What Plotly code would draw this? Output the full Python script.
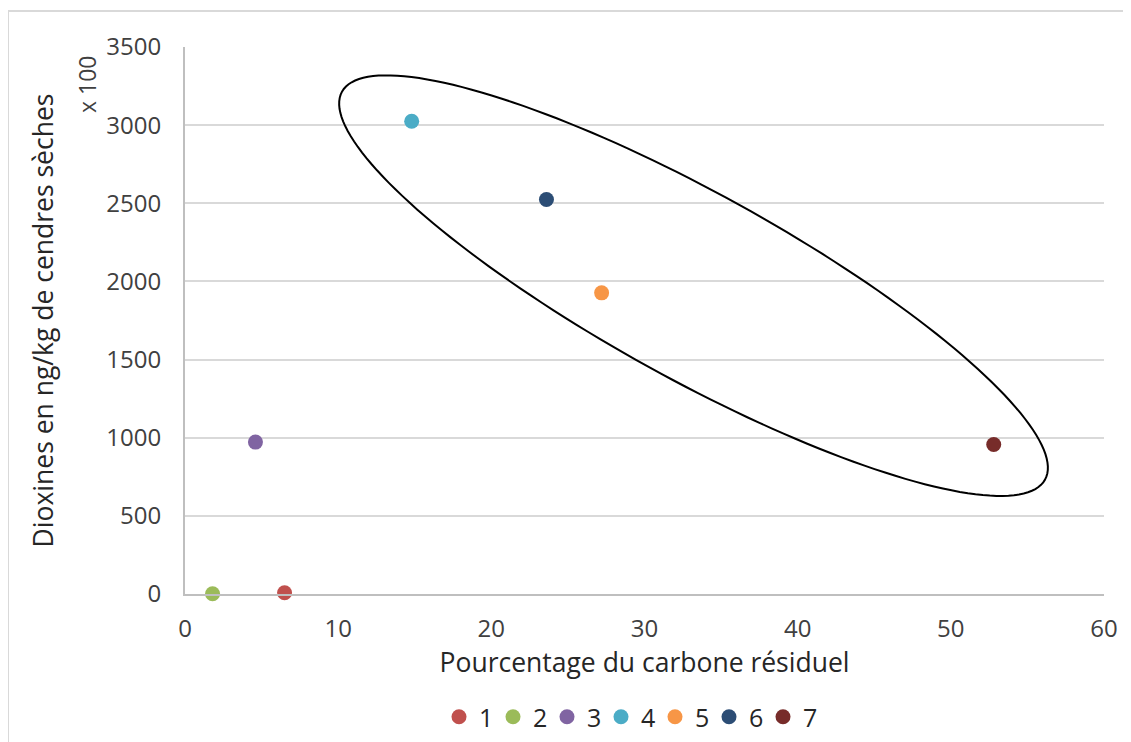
import numpy as np
import plotly.graph_objects as go

# samples 1..7
labels = ["1", "2", "3", "4", "5", "6", "7"]
carbon_pct = [6.5, 1.8, 4.6, 14.8, 27.2, 23.6, 52.8]
dioxines = [8, 2, 972, 3025, 1927, 2524, 957]
colors = ["#C0504D", "#9BBB59", "#8064A2", "#4BACC6", "#F79646", "#2C4D75", "#772C2A"]

x_ticks = [0, 10, 20, 30, 40, 50, 60]
y_ticks = [0, 500, 1000, 1500, 2000, 2500, 3000, 3500]

# hand-drawn ellipse around samples 4-7 (centre + two conjugate half-axes, data units)
ell_center = (33.2, 1973)
ell_u = (22.95, -1241)
ell_v = (-2.93, -520)

FONT = "Open Sans"
# the page body adds an 8px margin, so the figure is sized to fit inside the window
W, H = 1123, 734
PLOT_W, PLOT_H = 919, 547

fig = go.Figure()
for lab, xv, yv, c in zip(labels, carbon_pct, dioxines, colors):
    fig.add_trace(go.Scatter(
        x=[xv], y=[yv], name=lab, mode="markers",
        marker=dict(color=c, size=15, line=dict(width=0)),
        cliponaxis=False,
    ))

t = np.linspace(0, 2 * np.pi, 181)
ex = ell_center[0] + ell_u[0] * np.cos(t) + ell_v[0] * np.sin(t)
ey = ell_center[1] + ell_u[1] * np.cos(t) + ell_v[1] * np.sin(t)
path = "M " + " L ".join(f"{a:.4f},{b:.2f}" for a, b in zip(ex, ey)) + " Z"
fig.add_shape(type="path", path=path, xref="x", yref="y",
              line=dict(color="#000000", width=2), layer="above")

# chart border (Excel chart area)
fig.add_shape(type="rect", xref="paper", yref="paper",
              x0=(8 - 185) / PLOT_W, x1=1.06, y0=-0.4, y1=(594 - 11) / PLOT_H,
              line=dict(color="#D9D9D9", width=2), layer="below")

fig.add_annotation(text="x 100", xref="paper", yref="paper",
                   x=(87 - 185) / PLOT_W, y=(594 - 85) / PLOT_H,
                   xanchor="center", yanchor="middle",
                   showarrow=False, textangle=-90,
                   font=dict(family=FONT, size=23, color="#404040"))

fig.update_layout(
    width=W, height=H,
    margin=dict(l=177, r=27, t=39, b=148),
    paper_bgcolor="white", plot_bgcolor="white",
    font=dict(family=FONT, color="#404040"),
    showlegend=True,
    legend=dict(orientation="h", xref="paper", x=(628 - 185) / PLOT_W, xanchor="center",
                yref="container", y=25 / H, yanchor="middle",
                font=dict(size=25, color="#262626"), itemwidth=30, entrywidth=9),
    xaxis=dict(
        range=[0, 60], tickvals=x_ticks, showgrid=False, zeroline=False,
        showline=True, linecolor="#BFBFBF", linewidth=2,
        ticks="", tickfont=dict(size=24, color="#404040"), ticklabelstandoff=12,
        title=dict(text="Pourcentage du carbone résiduel", standoff=2,
                   font=dict(size=26.5, color="#262626")),
    ),
    yaxis=dict(
        range=[0, 3500], tickvals=y_ticks, showgrid=True, gridcolor="#D9D9D9", gridwidth=2,
        zeroline=False, showline=True, linecolor="#BFBFBF", linewidth=2,
        ticks="", tickfont=dict(size=24, color="#404040"), ticklabelstandoff=17,
        title=dict(text="Dioxines en ng/kg de cendres sèches", standoff=45,
                   font=dict(size=26.5, color="#262626")),
    ),
)

fig.write_html("out.html")
